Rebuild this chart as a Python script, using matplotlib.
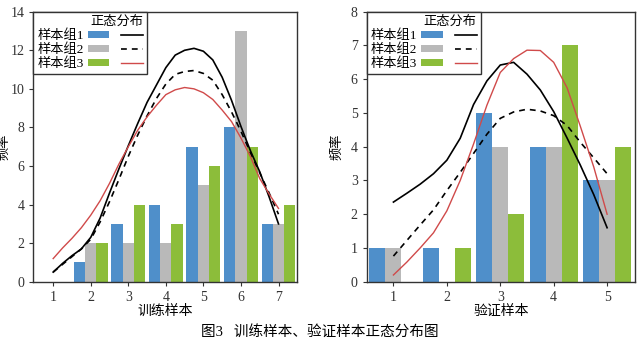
import numpy as np
import matplotlib
matplotlib.use("Agg")
import matplotlib.pyplot as plt
from matplotlib.patches import Patch
from matplotlib.lines import Line2D
from matplotlib.legend_handler import HandlerTuple

plt.rcParams['font.family'] = ['Liberation Serif', 'Noto Sans CJK SC', 'DejaVu Sans']

# ==========================================
# DATA
# ==========================================

# training samples
train_cats = [1, 2, 3, 4, 5, 6, 7]
train_g1 = [0, 1, 3, 4, 7, 8, 3]
train_g2 = [0, 2, 2, 2, 5, 13, 3]
train_g3 = [0, 2, 4, 3, 6, 7, 4]

train_curve_x = [1, 1.25, 1.5, 1.75, 2, 2.25, 2.5, 2.75, 3, 3.25, 3.5, 3.75, 4,
                 4.25, 4.5, 4.75, 5, 5.25, 5.5, 5.75, 6, 6.25, 6.5, 6.75, 7]
train_curve_1 = [0.5, 0.95, 1.35, 1.7, 2.3, 3.3, 4.6, 5.85, 7.05, 8.2, 9.3, 10.2, 11.1,
                 11.75, 12.0, 12.1, 11.95, 11.5, 10.6, 9.4, 8.05, 6.8, 5.7, 4.4, 3.0]
train_curve_2 = [0.5, 0.9, 1.3, 1.7, 2.2, 3.1, 4.15, 5.3, 6.5, 7.6, 8.6, 9.5, 10.25,
                 10.75, 10.9, 10.95, 10.8, 10.45, 9.7, 8.8, 7.8, 6.7, 5.65, 4.6, 3.5]
train_curve_3 = [1.2, 1.75, 2.25, 2.8, 3.45, 4.2, 5.1, 6.1, 7.0, 7.85, 8.55, 9.15, 9.7,
                 9.95, 10.07, 10.0, 9.8, 9.45, 8.9, 8.3, 7.45, 6.5, 5.35, 4.55, 3.8]

# validation samples
valid_cats = [1, 2, 3, 4, 5]
valid_g1 = [1, 1, 5, 4, 3]
valid_g2 = [1, 0, 4, 4, 3]
valid_g3 = [0, 1, 2, 7, 4]

valid_curve_x = [1, 1.25, 1.5, 1.75, 2, 2.25, 2.5, 2.75, 3, 3.25, 3.5, 3.75, 4, 4.25, 4.5, 4.75, 5]
valid_curve_1 = [2.36, 2.62, 2.89, 3.2, 3.6, 4.25, 5.25, 5.95, 6.42, 6.5, 6.15, 5.68, 5.04, 4.26, 3.45, 2.58, 1.6]
valid_curve_2 = [0.76, 1.22, 1.68, 2.13, 2.7, 3.24, 3.8, 4.37, 4.84, 5.03, 5.11, 5.06, 4.92, 4.63, 4.13, 3.67, 3.2]
valid_curve_3 = [0.2, 0.58, 1.0, 1.45, 2.1, 3.0, 4.08, 5.23, 6.2, 6.61, 6.86, 6.85, 6.5, 5.75, 4.6, 3.4, 2.0]

group_labels = ["样本组1", "样本组2", "样本组3"]
legend_title = "正态分布"
caption = "图3   训练样本、验证样本正态分布图"

# ==========================================
# STYLE
# ==========================================

BAR_COLORS = ["#4f8fca", "#b9b9b9", "#8cbd3a"]
LINE_STYLES = [
    dict(color="black", lw=1.2, ls="-"),
    dict(color="black", lw=1.2, ls=(0, (3.5, 3))),
    dict(color="#d04a4a", lw=1.0, ls="-"),
]
BAR_W = 0.3
SPINE = "#333333"


def draw_panel(ax, cats, groups, cx, curves, xlim, ylim, yticks, xlabel, ylab_x):
    x = np.array(cats, dtype=float)
    offsets = [-BAR_W, 0, BAR_W]
    for vals, off, c in zip(groups, offsets, BAR_COLORS):
        ax.bar(x + off, vals, width=BAR_W, color=c, zorder=2)
    for yv, st in zip(curves, LINE_STYLES):
        ax.plot(cx, yv, zorder=3, **st)

    ax.set_xlim(*xlim)
    ax.set_ylim(*ylim)
    ax.set_xticks(cats)
    ax.set_yticks(yticks)
    ax.tick_params(labelsize=10, colors=SPINE, length=3, width=0.8)
    for s in ax.spines.values():
        s.set_color(SPINE)
        s.set_linewidth(1.0)
    ax.set_xlabel(xlabel, fontsize=10, labelpad=1)
    ax.set_ylabel("频率", fontsize=9.5)
    ax.yaxis.set_label_coords(ylab_x, 0.5)

    handles = [
        (Patch(facecolor=c), Line2D([], [], **st))
        for c, st in zip(BAR_COLORS, LINE_STYLES)
    ]
    leg = ax.legend(
        handles, group_labels,
        title=legend_title,
        loc="upper left",
        handler_map={tuple: HandlerTuple(ndivide=None, pad=0.9)},
        markerfirst=False,
        handlelength=4.2,
        handleheight=0.45,
        handletextpad=0.3,
        labelspacing=0.1,
        borderpad=0.3,
        borderaxespad=0,
        fancybox=False,
        framealpha=1,
        edgecolor=SPINE,
        fontsize=9.5,
        title_fontsize=9.5,
        alignment="right",
    )
    leg.get_frame().set_linewidth(1.0)
    leg.set_zorder(5)


fig = plt.figure(figsize=(6.4, 3.44), dpi=100)

ax1 = fig.add_axes([0.052, 0.181, 0.4125, 0.785])
ax2 = fig.add_axes([0.573, 0.181, 0.419, 0.785])

draw_panel(ax1, train_cats, [train_g1, train_g2, train_g3], train_curve_x,
           [train_curve_1, train_curve_2, train_curve_3],
           (0.47, 7.5), (0, 14), range(0, 15, 2), "训练样本", -0.085)
draw_panel(ax2, valid_cats, [valid_g1, valid_g2, valid_g3], valid_curve_x,
           [valid_curve_1, valid_curve_2, valid_curve_3],
           (0.5, 5.52), (0, 8), range(0, 9), "验证样本", -0.088)

fig.text(0.5, 0.035, caption, ha="center", va="center", fontsize=10.5)

fig.savefig("out.png", dpi=100)
